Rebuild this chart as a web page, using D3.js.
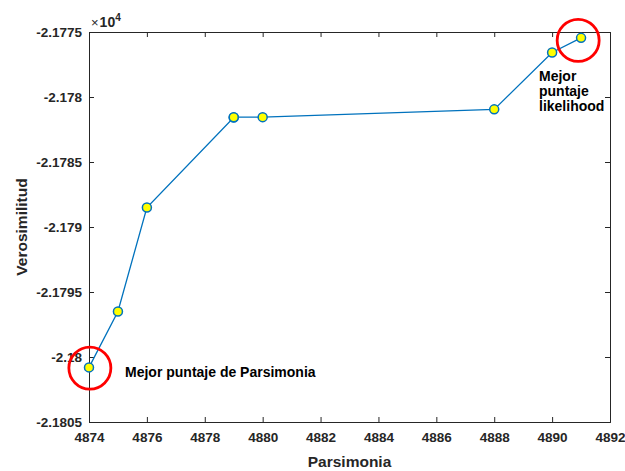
<!DOCTYPE html>
<html>
<head>
<meta charset="utf-8">
<script src="https://cdn.jsdelivr.net/npm/d3@7"></script>
<style>
  html, body { margin: 0; padding: 0; background: #fff; }
  svg { display: block; font-family: "Liberation Sans", Arial, sans-serif; }
</style>
</head>
<body>
<script>
// Parsimony score vs. log-likelihood of the explored trees
const parsimonia = [4874, 4875, 4876, 4879, 4879, 4880, 4888, 4890, 4891];
const verosimilitud = [-21800.8, -21796.5, -21788.5, -21781.58, -21781.55, -21781.55, -21780.95, -21776.58, -21775.45];

const xTicks = [4874, 4876, 4878, 4880, 4882, 4884, 4886, 4888, 4890, 4892];
const yTicks = [-21775, -21780, -21785, -21790, -21795, -21800, -21805];

// Highlighted points: best likelihood and best parsimony
const highlightX = [4890.9, 4874.03];
const highlightY = [-21775.65, -21800.85];

const W = 625, H = 471;
const margin = { left: 89, right: 15, top: 32, bottom: 49 };
const axisColor = "#262626";
const lineColor = "#0072BD";

const svg = d3.select("body").append("svg").attr("width", W).attr("height", H);

const x = d3.scaleLinear().domain([4874, 4892]).range([margin.left, W - margin.right]);
const y = d3.scaleLinear().domain([-21805, -21775]).range([H - margin.bottom, margin.top]);

const fmtY = d => String(+(d / 1e4).toFixed(4));

// Axes with inward ticks, box mirrored on top and right
const xAxis = svg.append("g").attr("transform", `translate(0,${y(-21805)})`)
  .call(d3.axisBottom(x).tickValues(xTicks).tickSize(-5).tickPadding(10).tickFormat(d3.format("d")));
const xAxisTop = svg.append("g").attr("transform", `translate(0,${y(-21775)})`)
  .call(d3.axisTop(x).tickValues(xTicks).tickSize(-5).tickFormat(""));
const yAxis = svg.append("g").attr("transform", `translate(${x(4874)},0)`)
  .call(d3.axisLeft(y).tickValues(yTicks).tickSize(-5).tickPadding(7).tickFormat(fmtY));
const yAxisRight = svg.append("g").attr("transform", `translate(${x(4892)},0)`)
  .call(d3.axisRight(y).tickValues(yTicks).tickSize(-5).tickFormat(""));

[xAxis, xAxisTop, yAxis, yAxisRight].forEach(g => {
  g.select(".domain").attr("stroke", axisColor).attr("stroke-width", 1);
  g.selectAll(".tick line").attr("stroke", axisColor);
  g.selectAll(".tick text")
    .attr("fill", axisColor)
    .attr("font-size", 13.5)
    .attr("font-weight", "bold")
    .attr("font-family", "Liberation Sans, Arial, sans-serif");
});
xAxis.selectAll(".tick text").attr("dy", "0.71em");

// Exponent label
const expo = svg.append("text")
  .attr("x", x(4874) + 2).attr("y", margin.top - 5)
  .attr("fill", axisColor).attr("font-size", 14);
expo.append("tspan").text("\u00d7").attr("font-weight", "normal").attr("font-size", 13);
expo.append("tspan").text("10").attr("font-weight", "bold").attr("dx", 1);
expo.append("tspan").text("4").attr("font-weight", "bold").attr("font-size", 10).attr("dy", -6);

// Axis titles
svg.append("text")
  .attr("x", (x(4874) + x(4892)) / 2).attr("y", H - 4)
  .attr("text-anchor", "middle").attr("font-size", 15.5).attr("font-weight", "bold")
  .attr("fill", axisColor).text("Parsimonia");

svg.append("text")
  .attr("transform", `translate(27,${(y(-21775) + y(-21805)) / 2}) rotate(-90)`)
  .attr("text-anchor", "middle").attr("font-size", 15.5).attr("font-weight", "bold")
  .attr("fill", axisColor).text("Verosimilitud");

// Data line
const pts = parsimonia.map((p, i) => [p, verosimilitud[i]]);
svg.append("path")
  .datum(pts)
  .attr("fill", "none")
  .attr("stroke", lineColor)
  .attr("stroke-width", 1.3)
  .attr("d", d3.line().x(d => x(d[0])).y(d => y(d[1])));

// Markers
svg.append("g").selectAll("circle")
  .data(pts)
  .join("circle")
  .attr("cx", d => x(d[0]))
  .attr("cy", d => y(d[1]))
  .attr("r", 4.5)
  .attr("fill", "#FFFF00")
  .attr("stroke", lineColor)
  .attr("stroke-width", 1.5);

// Red highlight rings
svg.append("g").selectAll("circle")
  .data(highlightX.map((v, i) => [v, highlightY[i]]))
  .join("circle")
  .attr("cx", d => x(d[0]))
  .attr("cy", d => y(d[1]))
  .attr("r", 21)
  .attr("fill", "none")
  .attr("stroke", "#FF0000")
  .attr("stroke-width", 2.8);

// Annotations
const note1 = svg.append("text")
  .attr("x", 539).attr("y", 81)
  .attr("font-size", 14).attr("font-weight", "bold").attr("fill", "#000");
["Mejor", "puntaje", "likelihood"].forEach((t, i) => {
  note1.append("tspan").attr("x", 539).attr("dy", i === 0 ? 0 : 15).text(t);
});

svg.append("text")
  .attr("x", 125).attr("y", 377)
  .attr("font-size", 14).attr("font-weight", "bold").attr("fill", "#000")
  .text("Mejor puntaje de Parsimonia");
</script>
</body>
</html>
